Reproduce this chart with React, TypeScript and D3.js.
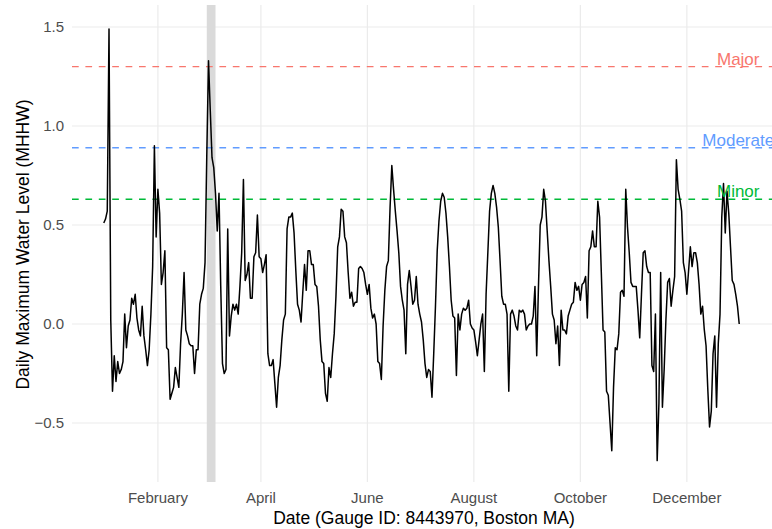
import React, { useEffect, useRef } from 'react';
import * as d3 from 'd3';

// daily maximum water level above MHHW (ft), Boston gauge 8443970, 2018
const jan = [0.51, 0.53, 0.57, 1.49, 0.02, -0.34, -0.16, -0.29, -0.19, -0.25, -0.23, -0.19, 0.05, -0.12, -0.01, 0.02, 0.13, 0.1, 0.15, 0.03, -0.03, -0.06, 0.09, -0.06, -0.13, -0.21, -0.13, 0.05, 0.29, 0.9, 0.44];
const feb = [0.68, 0.56, 0.2, 0.26, 0.37, -0.12, -0.13, -0.38, -0.35, -0.32, -0.22, -0.27, -0.32, -0.1, 0.05, 0.26, -0.03, -0.06, -0.1, -0.11, -0.11, -0.25, -0.13, -0.13, 0.1, 0.15, 0.18, 0.31];
const mar = [0.85, 1.33, 1.08, 0.84, 0.79, 0.66, 0.47, 0.66, 0.19, -0.2, -0.25, -0.23, 0.48, -0.06, 0.04, 0.1, 0.07, 0.1, 0.05, 0.19, 0.36, 0.73, 0.22, 0.25, 0.31, 0.13, 0.13, 0.34, 0.36, 0.55, 0.34];
const apr = [0.33, 0.26, 0.3, 0.35, -0.15, -0.21, -0.21, -0.18, -0.3, -0.42, -0.27, -0.21, -0.08, 0.02, 0.05, 0.48, 0.54, 0.54, 0.56, 0.46, 0.27, 0.1, 0.07, 0.01, 0.16, 0.3, 0.17, 0.37, 0.37, 0.3];
const may = [0.3, 0.2, 0.19, 0.09, -0.08, -0.19, -0.2, -0.35, -0.39, -0.22, -0.27, -0.15, -0.05, 0.14, 0.39, 0.44, 0.58, 0.57, 0.44, 0.41, 0.26, 0.13, 0.16, 0.09, 0.11, 0.11, 0.28, 0.29, 0.28, 0.26, 0.2];
const jun = [0.15, 0.2, 0.08, 0.03, 0.05, 0.0, -0.19, -0.2, -0.28, -0.01, 0.17, 0.29, 0.32, 0.59, 0.8, 0.68, 0.57, 0.47, 0.36, 0.19, 0.12, 0.07, -0.15, 0.2, 0.27, 0.19, 0.1, 0.12, 0.24, 0.1];
const jul = [0.05, 0.01, -0.08, -0.2, -0.27, -0.23, -0.24, -0.37, -0.15, 0.09, 0.37, 0.52, 0.62, 0.66, 0.64, 0.56, 0.44, 0.29, 0.12, 0.04, 0.03, -0.26, 0.05, -0.03, 0.05, 0.08, 0.07, 0.08, 0.12, 0.0, -0.02];
const aug = [-0.03, -0.09, -0.16, -0.08, 0.0, 0.05, -0.24, 0.15, 0.36, 0.57, 0.66, 0.7, 0.66, 0.59, 0.49, 0.32, 0.14, 0.1, 0.1, 0.05, -0.34, 0.05, 0.07, 0.04, -0.01, -0.03, 0.07, 0.06, 0.07, 0.05, -0.03];
const sep = [-0.01, 0.0, 0.0, 0.04, 0.19, -0.16, 0.19, 0.5, 0.54, 0.68, 0.62, 0.47, 0.32, 0.19, 0.05, 0.02, -0.1, -0.01, -0.21, 0.07, -0.03, -0.03, -0.05, 0.04, 0.07, 0.1, 0.11, 0.21, 0.17, 0.19];
const oct = [0.12, 0.2, 0.21, 0.24, 0.03, 0.37, 0.39, 0.47, 0.39, 0.39, 0.62, 0.54, 0.26, -0.03, -0.04, -0.34, -0.36, -0.5, -0.64, -0.32, -0.12, -0.13, -0.05, 0.16, 0.17, 0.14, 0.68, 0.49, 0.36, 0.21, 0.19];
const nov = [0.19, 0.19, 0.07, -0.07, 0.15, 0.36, 0.37, 0.29, 0.26, 0.26, -0.21, -0.24, 0.05, -0.69, -0.4, 0.26, -0.42, -0.23, 0.02, 0.21, 0.23, 0.09, 0.17, 0.24, 0.83, 0.68, 0.63, 0.57, 0.31, 0.26];
const dec = [0.15, 0.27, 0.39, 0.29, 0.36, 0.36, 0.31, 0.2, 0.05, 0.09, -0.03, -0.11, -0.33, -0.52, -0.44, -0.15, -0.06, -0.42, -0.1, 0.05, 0.54, 0.71, 0.46, 0.67, 0.56, 0.39, 0.22, 0.2, 0.15, 0.09, 0.0];

const months = [jan, feb, mar, apr, may, jun, jul, aug, sep, oct, nov, dec];

// flood thresholds
const floodNames = ['Major', 'Moderate', 'Minor'];
const floodLevels = [1.3, 0.89, 0.63];
const floodColors = ['#F8766D', '#619CFF', '#00BA38'];

// storm window shaded on the plot
const stormStart = new Date(2018, 2, 1);
const stormEnd = new Date(2018, 2, 6);

const tickDates = [1, 3, 5, 7, 9, 11].map((m) => new Date(2018, m, 1));
const yTicks = [-0.5, 0, 0.5, 1.0, 1.5];

const font = '"Liberation Sans", Arial, sans-serif';

const App = () => {
  const ref = useRef<SVGSVGElement>(null);

  useEffect(() => {
    const width = 772,
      height = 529,
      left = 72,
      right = 771,
      top = 7,
      bottom = 482;

    const series: { date: Date; value: number }[] = [];
    months.forEach((vals, m) => {
      vals.forEach((v, i) => series.push({ date: new Date(2018, m, i + 1), value: v }));
    });

    const first = series[0].date,
      last = series[series.length - 1].date;
    const pad = (last.getTime() - first.getTime()) * 0.05;

    const x = d3
      .scaleTime()
      .domain([new Date(first.getTime() - pad), new Date(last.getTime() + pad)])
      .range([left, right]);
    const y = d3.scaleLinear().domain([-0.8, 1.6]).range([bottom + 0.4, top + 0.2]);

    const svg = d3.select(ref.current);
    svg.selectAll('*').remove();
    svg.attr('width', width).attr('height', height);

    // grid
    const grid = svg.append('g');
    yTicks.forEach((t) => {
      grid
        .append('line')
        .attr('x1', left)
        .attr('x2', width)
        .attr('y1', y(t))
        .attr('y2', y(t))
        .attr('stroke', '#EBEBEB')
        .attr('stroke-width', 1.2);
    });
    tickDates.forEach((t) => {
      grid
        .append('line')
        .attr('x1', x(t))
        .attr('x2', x(t))
        .attr('y1', top - 2)
        .attr('y2', bottom)
        .attr('stroke', '#EBEBEB')
        .attr('stroke-width', 1.2);
    });

    // storm band
    svg
      .append('rect')
      .attr('x', x(stormStart))
      .attr('y', top - 2)
      .attr('width', x(stormEnd) - x(stormStart))
      .attr('height', bottom - top + 2)
      .attr('fill', '#DADADA');

    // thresholds
    floodLevels.forEach((lvl, i) => {
      svg
        .append('line')
        .attr('x1', left)
        .attr('x2', width)
        .attr('y1', y(lvl))
        .attr('y2', y(lvl))
        .attr('stroke', floodColors[i])
        .attr('stroke-width', 1.4)
        .attr('stroke-dasharray', '6.7,6.7');
    });

    // water level line
    const line = d3
      .line<{ date: Date; value: number }>()
      .x((d) => x(d.date))
      .y((d) => y(d.value));
    svg
      .append('path')
      .datum(series)
      .attr('d', line)
      .attr('fill', 'none')
      .attr('stroke', 'black')
      .attr('stroke-width', 1.5)
      .attr('stroke-linejoin', 'round');

    floodLevels.forEach((lvl, i) => {
      svg
        .append('text')
        .attr('x', x(last) - 1)
        .attr('y', y(lvl) - 2)
        .attr('text-anchor', 'middle')
        .attr('font-family', font)
        .attr('font-size', 17)
        .attr('fill', floodColors[i])
        .text(floodNames[i]);
    });

    // axes labels
    const fmt = d3.timeFormat('%B');
    tickDates.forEach((t) => {
      svg
        .append('text')
        .attr('x', x(t))
        .attr('y', 503)
        .attr('text-anchor', 'middle')
        .attr('font-family', font)
        .attr('font-size', 15)
        .attr('fill', '#4D4D4D')
        .text(fmt(t));
    });
    yTicks.forEach((t) => {
      svg
        .append('text')
        .attr('x', 64)
        .attr('y', y(t))
        .attr('dy', '0.36em')
        .attr('text-anchor', 'end')
        .attr('font-family', font)
        .attr('font-size', 15)
        .attr('fill', '#4D4D4D')
        .text(d3.format('.1f')(t).replace('-', '\u2212'));
    });

    svg
      .append('text')
      .attr('x', 424)
      .attr('y', 524)
      .attr('text-anchor', 'middle')
      .attr('font-family', font)
      .attr('font-size', 17.5)
      .attr('fill', 'black')
      .text('Date (Gauge ID: 8443970, Boston MA)');

    svg
      .append('text')
      .attr('transform', `translate(28.5,${(top + bottom) / 2}) rotate(-90)`)
      .attr('text-anchor', 'middle')
      .attr('font-family', font)
      .attr('font-size', 17.5)
      .attr('fill', 'black')
      .text('Daily Maximum Water Level (MHHW)');
  }, []);

  return <svg ref={ref} style={{ position: 'absolute', left: 0, top: 0 }} />;
};

export default App;
